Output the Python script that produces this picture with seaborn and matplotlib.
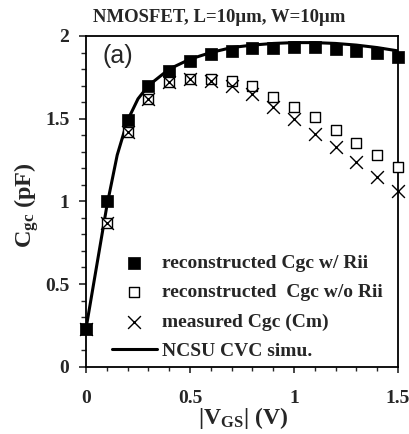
import numpy as np
import pandas as pd
import matplotlib
matplotlib.use("Agg")
import matplotlib.pyplot as plt
import seaborn as sns
from matplotlib.ticker import MultipleLocator, FixedLocator

# ---- data ----
vgs = [0.0, 0.1, 0.2, 0.3, 0.4, 0.5, 0.6, 0.7, 0.8, 0.9, 1.0, 1.1, 1.2, 1.3, 1.4, 1.5]
cgc_w_rii = [0.23, 1.00, 1.49, 1.70, 1.79, 1.85, 1.89, 1.91, 1.925, 1.93, 1.935, 1.935, 1.92, 1.91, 1.90, 1.87]
cgc_wo_rii = [0.23, 0.87, 1.42, 1.62, 1.72, 1.74, 1.74, 1.725, 1.70, 1.63, 1.57, 1.51, 1.43, 1.35, 1.28, 1.21]
cgc_meas = [0.23, 0.87, 1.42, 1.62, 1.72, 1.74, 1.73, 1.70, 1.65, 1.57, 1.50, 1.41, 1.33, 1.24, 1.15, 1.06]
sim_v = [0.0, 0.05, 0.1, 0.15, 0.2, 0.25, 0.3, 0.4, 0.5, 0.6, 0.7, 0.8, 0.9, 1.0, 1.1, 1.2, 1.3, 1.4, 1.5]
sim_c = [0.23, 0.60, 0.97, 1.28, 1.49, 1.62, 1.70, 1.80, 1.86, 1.90, 1.93, 1.945, 1.955, 1.96, 1.96, 1.955, 1.945, 1.93, 1.91]
x_ticks = [0, 0.5, 1, 1.5]
x_ticklabels = ["0", "0.5", "1", "1.5"]
y_ticks = [0, 0.5, 1, 1.5, 2]
y_ticklabels = ["0", "0.5", "1", "1.5", "2"]

sns.set_style("ticks")
plt.rcParams["font.family"] = ["Liberation Serif", "DejaVu Serif"]
plt.rcParams["font.weight"] = "bold"
plt.rcParams["mathtext.fontset"] = "custom"
plt.rcParams["mathtext.rm"] = "Liberation Serif:bold"
plt.rcParams["mathtext.bf"] = "Liberation Serif:bold"
plt.rcParams["mathtext.it"] = "Liberation Serif:bold"

fig = plt.figure(figsize=(4.09, 4.34), dpi=100)
ax = fig.add_axes([86 / 409, 1 - 366.7 / 434, 312 / 409, 330.7 / 434])

df_sim = pd.DataFrame({"v": sim_v, "c": sim_c})
df = pd.DataFrame({"v": vgs, "w": cgc_w_rii, "wo": cgc_wo_rii, "m": cgc_meas})

sns.lineplot(data=df_sim, x="v", y="c", ax=ax, color="black", lw=2.2,
             label="NCSU CVC simu.", zorder=2)
sns.scatterplot(data=df, x="v", y="wo", ax=ax, marker="s", s=62,
                facecolor="white", edgecolor="black", linewidth=1.0,
                label="reconstructed  Cgc w/o Rii", zorder=3, clip_on=False)
sns.scatterplot(data=df, x="v", y="m", ax=ax, marker="x", s=85,
                color="black", linewidth=1.0,
                label="measured Cgc (Cm)", zorder=4, clip_on=False)
sns.scatterplot(data=df, x="v", y="w", ax=ax, marker="s", s=85,
                color="black", edgecolor="black", linewidth=0.5,
                label="reconstructed Cgc w/ Rii", zorder=5, clip_on=False)

ax.set_xlim(0, 1.5)
ax.set_ylim(0, 2)
ax.xaxis.set_major_locator(FixedLocator(x_ticks))
ax.set_xticklabels(x_ticklabels)
ax.yaxis.set_major_locator(FixedLocator(y_ticks))
ax.set_yticklabels(y_ticklabels)
ax.xaxis.set_minor_locator(MultipleLocator(0.1))
ax.yaxis.set_minor_locator(MultipleLocator(0.1))
ax.tick_params(axis="y", which="major", direction="out", length=5, width=1.2,
               labelsize=14, pad=7)
ax.tick_params(axis="y", which="minor", direction="out", length=3.6, width=1.0)
ax.tick_params(axis="x", which="major", direction="out", length=4, width=1.2,
               labelsize=14, pad=13)
ax.tick_params(axis="x", which="minor", direction="out", length=3, width=1.0)
for lab in ax.get_xticklabels() + ax.get_yticklabels():
    lab.set_fontweight("bold")
for sp in ax.spines.values():
    sp.set_visible(True)
    sp.set_linewidth(1.3)
    sp.set_color("black")

ax.set_xlabel(r"|V$_{\mathrm{GS}}$| (V)", fontsize=17, fontweight="bold")
ax.set_ylabel(r"C$_{\mathrm{gc}}$ (pF)", fontsize=17.5, fontweight="bold")
ax.xaxis.set_label_coords((243 - 86) / 312, (366.7 - 405) / 330.7)
ax.yaxis.set_label_coords((41 - 86) / 312, (366.7 - 205) / 330.7)

ax.text((103 - 86) / 312, (366.7 - 56) / 330.7, "(a)", transform=ax.transAxes,
        fontsize=18, fontweight="normal", family=["Liberation Sans"],
        va="center", ha="left")

fig.text(219 / 409, 1 - 17 / 434, "NMOSFET, L=10\u03bcm, W=10\u03bcm",
         ha="center", va="center", fontsize=13.5, fontweight="bold")

handles, labels = ax.get_legend_handles_labels()
order = [3, 1, 2, 0]
leg = ax.legend([handles[i] for i in order], [labels[i] for i in order],
                loc="lower left", bbox_to_anchor=(0.083, 0.02), frameon=False,
                fontsize=14, handlelength=2.3, handletextpad=0.26,
                labelspacing=0.6, borderpad=0, borderaxespad=0)
for t in leg.get_texts():
    t.set_fontweight("bold")

fig.savefig("out.png", dpi=100)
